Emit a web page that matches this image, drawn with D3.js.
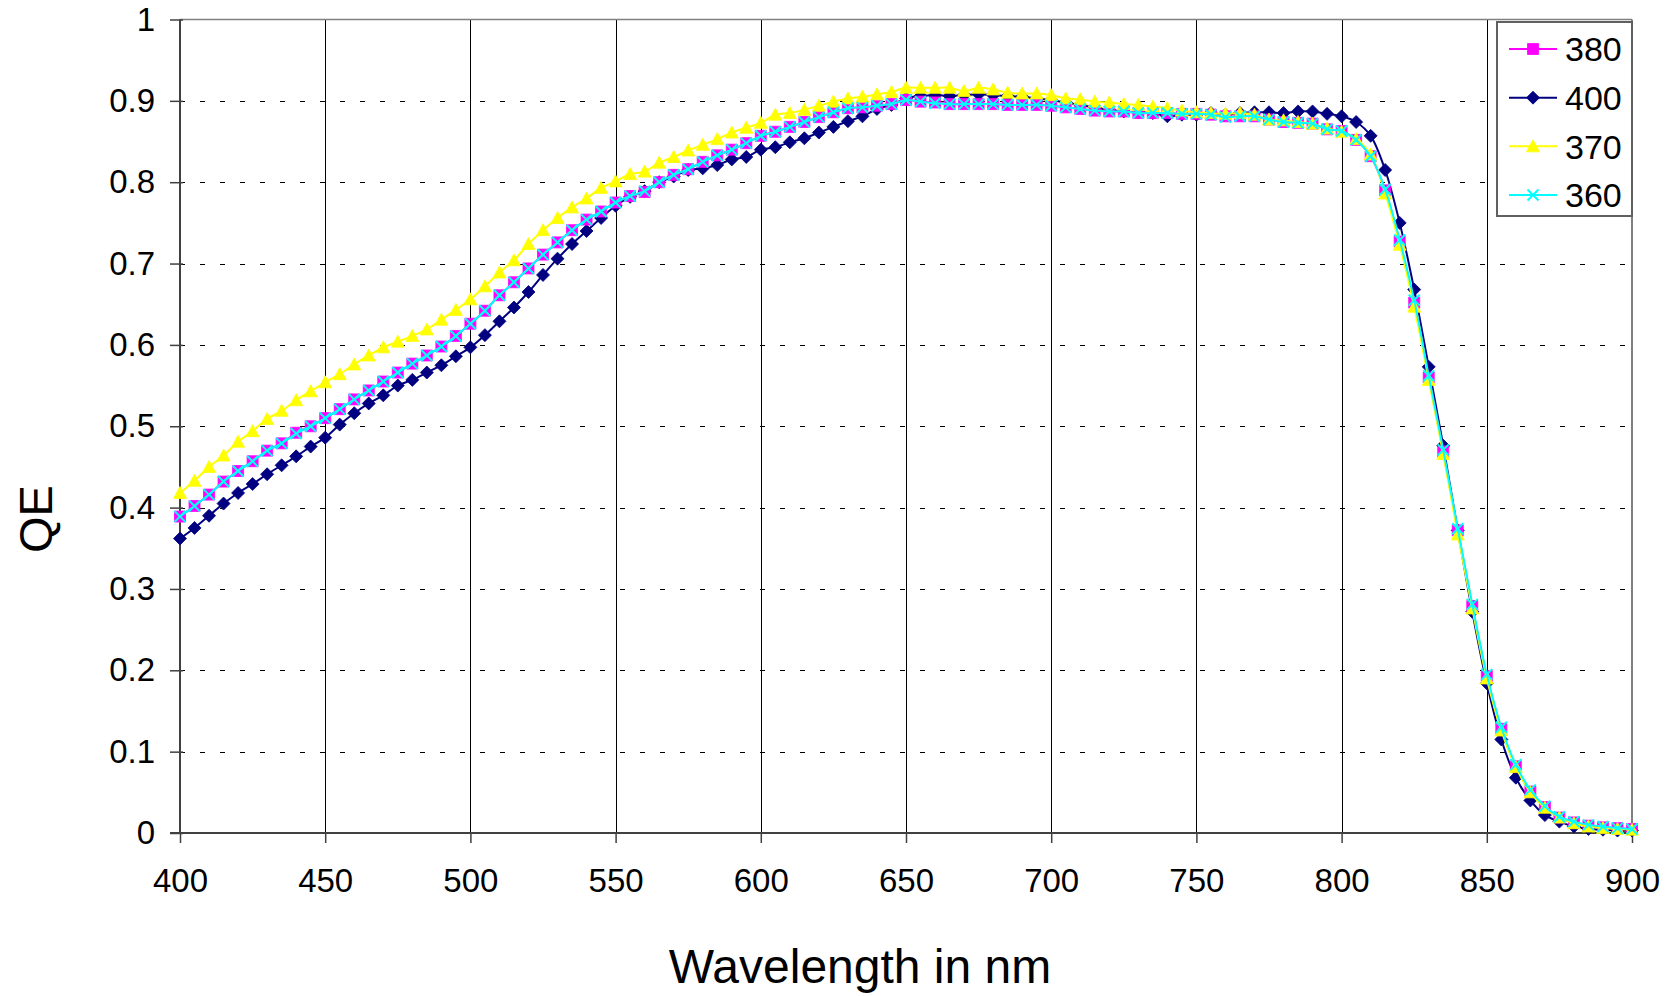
<!DOCTYPE html>
<html>
<head>
<meta charset="utf-8">
<script src="https://cdn.jsdelivr.net/npm/d3@7"></script>
<style>
  html, body { margin: 0; padding: 0; background: #fff; }
  svg { display: block; font-family: "Liberation Sans", Arial, sans-serif; }
</style>
</head>
<body>
<svg id="chart" width="1675" height="996"></svg>
<script>
// Wavelength samples (nm)
const wavelengths = [
  400,405,410,415,420,425,430,435,440,445,450,455,460,465,470,475,480,485,490,495,
  500,505,510,515,520,525,530,535,540,545,550,555,560,565,570,575,580,585,590,595,
  600,605,610,615,620,625,630,635,640,645,650,655,660,665,670,675,680,685,690,695,
  700,705,710,715,720,725,730,735,740,745,750,755,760,765,770,775,780,785,790,795,
  800,805,810,815,820,825,830,835,840,845,850,855,860,865,870,875,880,885,890,895,
  900
];

// Quantum efficiency per series
const qe380 = [
  0.389,0.402,0.416,0.432,0.445,0.457,0.470,0.479,0.492,0.500,0.510,0.521,0.533,0.544,0.555,0.566,0.577,0.587,0.598,0.611,
  0.626,0.642,0.661,0.677,0.694,0.711,0.726,0.741,0.754,0.764,0.775,0.783,0.788,0.800,0.809,0.816,0.825,0.833,0.840,0.848,
  0.857,0.862,0.868,0.874,0.880,0.886,0.891,0.892,0.894,0.896,0.901,0.899,0.898,0.896,0.896,0.896,0.896,0.895,0.895,0.895,
  0.894,0.892,0.890,0.888,0.887,0.887,0.885,0.885,0.885,0.884,0.884,0.883,0.881,0.881,0.881,0.877,0.874,0.873,0.872,0.865,
  0.863,0.852,0.832,0.790,0.727,0.652,0.560,0.469,0.372,0.279,0.193,0.128,0.082,0.051,0.032,0.019,0.013,0.009,0.007,0.006,
  0.005
];
const qe400 = [
  0.362,0.375,0.390,0.405,0.418,0.429,0.441,0.452,0.463,0.475,0.486,0.502,0.516,0.528,0.538,0.550,0.557,0.566,0.575,0.586,
  0.597,0.612,0.629,0.646,0.665,0.686,0.706,0.724,0.740,0.756,0.771,0.782,0.789,0.800,0.807,0.815,0.817,0.821,0.828,0.831,
  0.840,0.843,0.849,0.854,0.861,0.868,0.875,0.881,0.890,0.895,0.903,0.906,0.907,0.906,0.907,0.908,0.907,0.906,0.905,0.903,
  0.901,0.898,0.895,0.892,0.889,0.887,0.886,0.885,0.881,0.883,0.883,0.885,0.883,0.885,0.886,0.886,0.885,0.887,0.887,0.884,
  0.881,0.874,0.857,0.815,0.750,0.668,0.573,0.476,0.372,0.272,0.184,0.115,0.068,0.040,0.022,0.014,0.008,0.005,0.004,0.003,
  0.003
];
const qe370 = [
  0.418,0.433,0.450,0.464,0.481,0.494,0.509,0.519,0.532,0.543,0.554,0.564,0.576,0.587,0.597,0.604,0.611,0.619,0.631,0.643,
  0.656,0.672,0.689,0.704,0.724,0.741,0.756,0.769,0.780,0.793,0.801,0.810,0.813,0.824,0.831,0.839,0.846,0.853,0.861,0.867,
  0.873,0.883,0.885,0.889,0.894,0.899,0.903,0.905,0.908,0.911,0.916,0.916,0.916,0.916,0.912,0.916,0.914,0.910,0.909,0.909,
  0.907,0.903,0.902,0.899,0.898,0.896,0.895,0.893,0.891,0.888,0.886,0.885,0.884,0.885,0.883,0.877,0.876,0.874,0.872,0.866,
  0.862,0.853,0.834,0.786,0.723,0.647,0.557,0.466,0.367,0.276,0.190,0.126,0.081,0.050,0.031,0.019,0.012,0.008,0.006,0.005,
  0.004
];
const qe360 = [
  0.389,0.402,0.416,0.432,0.445,0.457,0.470,0.479,0.491,0.500,0.510,0.521,0.533,0.544,0.555,0.566,0.577,0.587,0.598,0.611,
  0.626,0.642,0.661,0.677,0.694,0.711,0.726,0.741,0.754,0.764,0.775,0.783,0.789,0.800,0.809,0.816,0.825,0.833,0.840,0.848,
  0.857,0.862,0.868,0.874,0.880,0.886,0.891,0.892,0.894,0.896,0.901,0.899,0.897,0.896,0.896,0.896,0.896,0.895,0.895,0.895,
  0.894,0.892,0.890,0.888,0.887,0.887,0.885,0.885,0.885,0.884,0.884,0.883,0.880,0.881,0.881,0.877,0.874,0.873,0.872,0.865,
  0.863,0.852,0.832,0.791,0.729,0.655,0.562,0.471,0.374,0.281,0.195,0.130,0.084,0.053,0.033,0.020,0.014,0.010,0.008,0.006,
  0.005
];

const seriesNames = ["380", "400", "370", "360"];
const xTickValues = [400, 450, 500, 550, 600, 650, 700, 750, 800, 850, 900];
const yTickValues = [0, 0.1, 0.2, 0.3, 0.4, 0.5, 0.6, 0.7, 0.8, 0.9, 1];
const yTickLabels = ["0", "0.1", "0.2", "0.3", "0.4", "0.5", "0.6", "0.7", "0.8", "0.9", "1"];

const series = [
  { name: "380", values: qe380, color: "#FF00FF", marker: "square" },
  { name: "400", values: qe400, color: "#000080", marker: "diamond" },
  { name: "370", values: qe370, color: "#FFFF00", marker: "triangle" },
  { name: "360", values: qe360, color: "#00FFFF", marker: "cross" }
];
// draw order: later entries sit on top
const drawOrder = ["400", "380", "370", "360"];

const svg = d3.select("#chart");
const plotLeft = 180, plotRight = 1632, plotTop = 19.5, plotBottom = 833;

const x = d3.scaleLinear().domain([400, 900]).range([plotLeft, plotRight]);
const y = d3.scaleLinear().domain([0, 1]).range([plotBottom, plotTop]);

// horizontal dashed gridlines
svg.append("g").selectAll("line")
  .data(yTickValues.filter(v => v > 0 && v < 1))
  .join("line")
  .attr("x1", plotLeft).attr("x2", plotRight)
  .attr("y1", d => Math.round(y(d)) + 0.5).attr("y2", d => Math.round(y(d)) + 0.5)
  .attr("stroke", "#000").attr("stroke-width", 1)
  .attr("stroke-dasharray", "5,15");

// vertical solid gridlines
svg.append("g").selectAll("line")
  .data(xTickValues.filter(v => v > 400 && v < 900))
  .join("line")
  .attr("x1", d => Math.round(x(d)) + 0.5).attr("x2", d => Math.round(x(d)) + 0.5)
  .attr("y1", plotTop).attr("y2", plotBottom)
  .attr("stroke", "#000").attr("stroke-width", 1);

// plot frame: top and right in grey
svg.append("line").attr("x1", plotLeft).attr("x2", plotRight).attr("y1", plotTop).attr("y2", plotTop)
  .attr("stroke", "#808080").attr("stroke-width", 1.5);
svg.append("line").attr("x1", plotRight).attr("x2", plotRight).attr("y1", plotTop).attr("y2", plotBottom)
  .attr("stroke", "#808080").attr("stroke-width", 2);

// axes
const fontTick = 33;
const yAxis = d3.axisLeft(y).tickValues(yTickValues)
  .tickFormat((d, i) => yTickLabels[i]).tickSize(10).tickPadding(15);
const gy = svg.append("g").attr("transform", `translate(${plotLeft},0)`).call(yAxis);
gy.select(".domain").remove();
gy.selectAll(".tick line").attr("x1", 3).attr("stroke", "#404040").attr("stroke-width", 1.5);
gy.selectAll(".tick text").attr("font-size", fontTick).attr("fill", "#000")
  .attr("font-family", "Liberation Sans, Arial, sans-serif");

const xAxis = d3.axisBottom(x).tickValues(xTickValues)
  .tickFormat(d3.format("d")).tickSize(10).tickPadding(26);
const gx = svg.append("g").attr("transform", `translate(0,${plotBottom})`).call(xAxis);
gx.select(".domain").remove();
gx.selectAll(".tick line").attr("stroke", "#404040").attr("stroke-width", 1.5);
gx.selectAll(".tick text").attr("font-size", fontTick).attr("fill", "#000")
  .attr("font-family", "Liberation Sans, Arial, sans-serif");

svg.append("line").attr("x1", plotLeft).attr("x2", plotLeft).attr("y1", plotTop).attr("y2", plotBottom)
  .attr("stroke", "#404040").attr("stroke-width", 2);
svg.append("line").attr("x1", plotLeft - 10).attr("x2", plotRight).attr("y1", plotBottom).attr("y2", plotBottom)
  .attr("stroke", "#404040").attr("stroke-width", 2);

// marker shapes
function markerPath(type) {
  switch (type) {
    case "square": return "M-5.5,-5.5H5.5V5.5H-5.5Z";
    case "diamond": return "M0,-6.5L6.5,0L0,6.5L-6.5,0Z";
    case "triangle": return "M0,-6.5L6.5,5.5L-6.5,5.5Z";
    case "cross": return "M-5.5,-5.5L5.5,5.5M-5.5,5.5L5.5,-5.5";
  }
}
function styleMarker(sel, s) {
  if (s.marker === "cross") {
    sel.attr("fill", "none").attr("stroke", s.color).attr("stroke-width", 2);
  } else {
    sel.attr("fill", s.color).attr("stroke", s.color).attr("stroke-width", 0.8);
  }
}

const line = d3.line()
  .x((d, i) => x(wavelengths[i]))
  .y(d => y(d))
  .curve(d3.curveCatmullRom.alpha(0.5));

const ordered = drawOrder.map(n => series.find(s => s.name === n));
const gSeries = svg.append("g");
ordered.forEach(s => {
  const g = gSeries.append("g");
  g.append("path").attr("d", line(s.values))
    .attr("fill", "none").attr("stroke", s.color).attr("stroke-width", 2);
  g.selectAll("path.m").data(s.values).join("path").attr("class", "m")
    .attr("d", markerPath(s.marker))
    .attr("transform", (d, i) => `translate(${x(wavelengths[i])},${y(d)})`)
    .call(styleMarker, s);
});

// legend
const legend = svg.append("g");
legend.append("rect").attr("x", 1497).attr("y", 22).attr("width", 135).attr("height", 194)
  .attr("fill", "#fff").attr("stroke", "#606060").attr("stroke-width", 2);
const legendY = d3.scalePoint().domain(seriesNames).range([49, 195]);
series.forEach(s => {
  const cy = legendY(s.name);
  legend.append("line").attr("x1", 1509).attr("x2", 1557).attr("y1", cy).attr("y2", cy)
    .attr("stroke", s.color).attr("stroke-width", 2);
  legend.append("path").attr("d", markerPath(s.marker))
    .attr("transform", `translate(1533,${cy})`).call(styleMarker, s);
  legend.append("text").attr("x", 1565).attr("y", cy).attr("dy", "0.36em")
    .attr("font-size", 34).text(s.name);
});

// axis titles
svg.append("text").attr("x", 860).attr("y", 983).attr("text-anchor", "middle")
  .attr("font-size", 48).text("Wavelength in nm");
svg.append("text").attr("transform", "translate(52,519) rotate(-90)")
  .attr("text-anchor", "middle").attr("font-size", 47).text("QE");
</script>
</body>
</html>
